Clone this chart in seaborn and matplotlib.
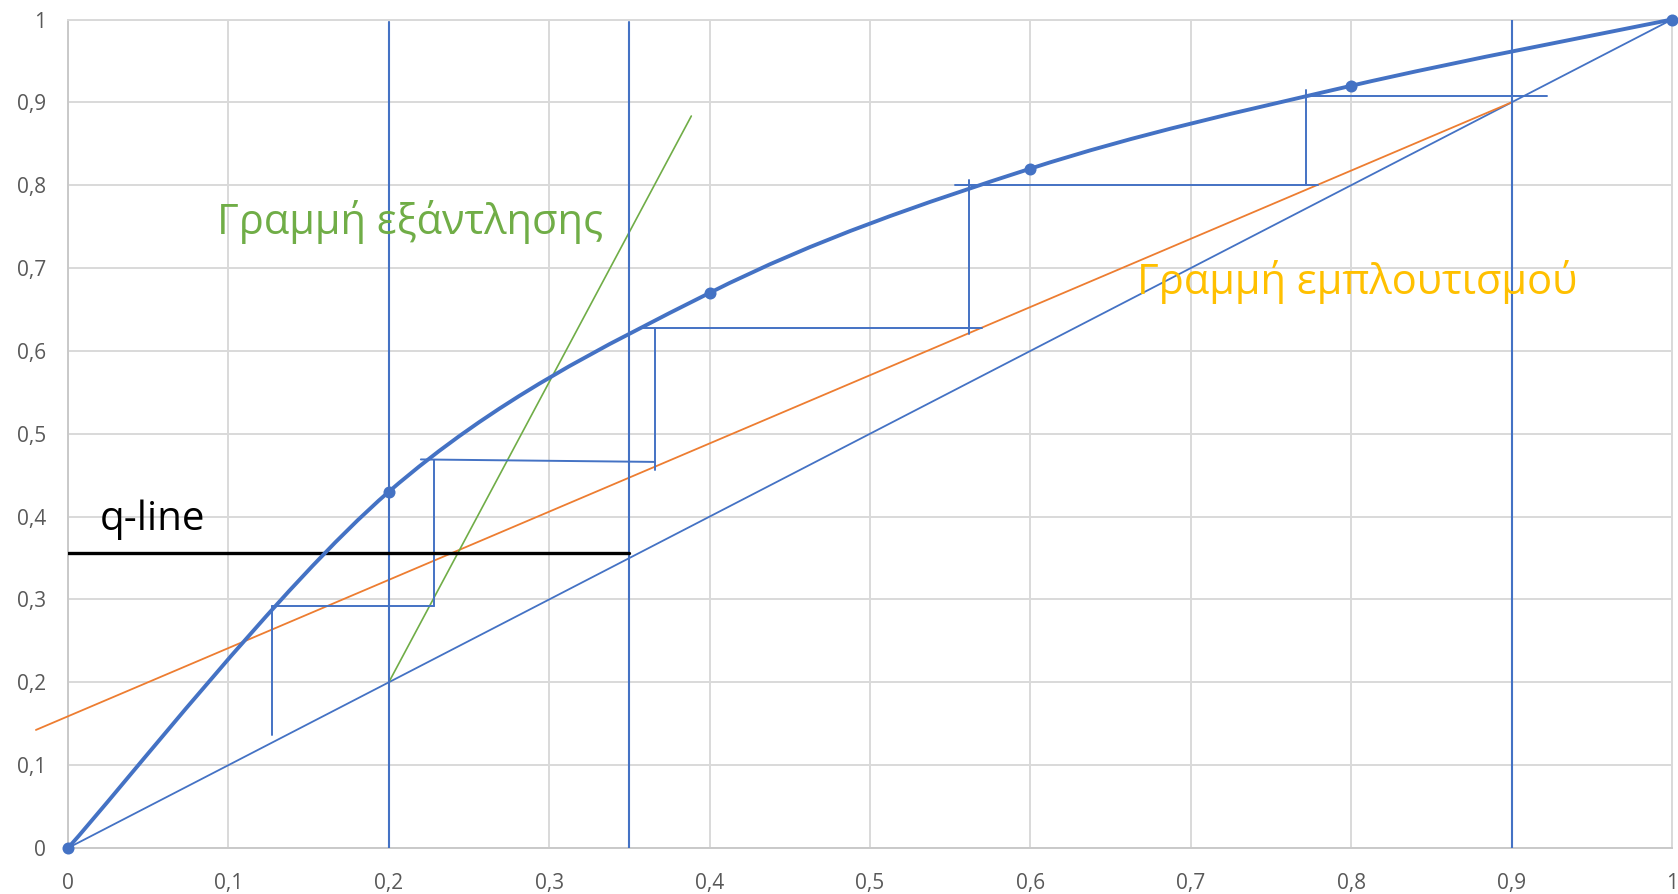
import numpy as np
import matplotlib
matplotlib.use("Agg")
import matplotlib.pyplot as plt
from matplotlib.path import Path
from matplotlib.patches import PathPatch
from matplotlib.ticker import FuncFormatter, MultipleLocator
import seaborn as sns
import pandas as pd

# Equilibrium data (x, y)
eq_x = [0.0, 0.2, 0.4, 0.6, 0.8, 1.0]
eq_y = [0.0, 0.43, 0.67, 0.82, 0.92, 1.0]

# Key compositions
x_w = 0.2     # bottoms
x_f = 0.35    # feed
x_d = 0.9     # distillate
q_y = 0.356   # q-line level

# Operating lines
rect_x = [-0.02, 0.9]
rect_y = [0.1425, 0.9]
strip_x = [0.2, 0.3886]
strip_y = [0.2, 0.8835]

# Step construction segments: (x0, y0, x1, y1)
step_x0 = [0.772, 0.772, 0.553, 0.562, 0.357, 0.366, 0.220, 0.228, 0.127, 0.127]
step_y0 = [0.9073, 0.915, 0.800, 0.806, 0.628, 0.628, 0.469, 0.468, 0.292, 0.292]
step_x1 = [0.922, 0.772, 0.779, 0.562, 0.570, 0.366, 0.366, 0.228, 0.228, 0.127]
step_y1 = [0.9073, 0.800, 0.800, 0.6205, 0.628, 0.456, 0.466, 0.292, 0.292, 0.136]

BLUE = "#4472C4"
ORANGE = "#ED7D31"
GREEN = "#70AD47"
GOLD = "#FFC000"
GRID = "#D9D9D9"

sns.set_theme(style="whitegrid")
plt.rcParams["font.family"] = ["Open Sans", "DejaVu Sans"]

fig = plt.figure(figsize=(16.78, 8.94), dpi=100)
ax = fig.add_axes([68 / 1678, 1 - 848 / 894, 1604 / 1678, 828.5 / 894])
ax.set_facecolor("white")

ax.set_xlim(0, 1)
ax.set_ylim(0, 1)
ax.xaxis.set_major_locator(MultipleLocator(0.1))
ax.yaxis.set_major_locator(MultipleLocator(0.1))


def comma_fmt(v, _pos):
    v = round(v, 1)
    if v == int(v):
        return str(int(v))
    return f"{v:.1f}".replace(".", ",")


ax.xaxis.set_major_formatter(FuncFormatter(comma_fmt))
ax.yaxis.set_major_formatter(FuncFormatter(comma_fmt))
ax.grid(True, color=GRID, linewidth=1.4)
for s in ax.spines.values():
    s.set_color(GRID)
    s.set_linewidth(1.4)
ax.spines["left"].set_color("#C9C9C9")
ax.spines["bottom"].set_color("#C9C9C9")
ax.tick_params(axis="both", length=0, labelsize=15, labelcolor="#595959")
ax.tick_params(axis="x", pad=18)
ax.tick_params(axis="y", pad=16)

# Diagonal y = x
sns.lineplot(x=[0, 1], y=[0, 1], ax=ax, color=BLUE, linewidth=1.3, zorder=3)

# Rectifying (enrichment) line
ax.plot(rect_x, rect_y, color=ORANGE, linewidth=1.3, zorder=3, clip_on=False)

# Stripping line
sns.lineplot(x=strip_x, y=strip_y, ax=ax, color=GREEN, linewidth=1.2, zorder=3)

# Vertical composition markers
for xv, top in zip([x_w, x_f, x_d], [0.997, 0.997, 1.0]):
    ax.plot([xv, xv], [0, top], color=BLUE, linewidth=1.5, zorder=3)

# q-line
ax.plot([0, x_f], [q_y, q_y], color="black", linewidth=2.4, zorder=4)

# Steps
for a, b, c, d in zip(step_x0, step_y0, step_x1, step_y1):
    ax.plot([a, c], [b, d], color=BLUE, linewidth=1.4, zorder=3)

# Smoothed equilibrium curve (Catmull-Rom rendered as cubic Bezier)
pts = np.column_stack([eq_x, eq_y])
ext = np.vstack([pts[0], pts, pts[-1]])
verts = [tuple(pts[0])]
codes = [Path.MOVETO]
for i in range(1, len(ext) - 2):
    p0, p1, p2, p3 = ext[i - 1], ext[i], ext[i + 1], ext[i + 2]
    c1 = p1 + (p2 - p0) / 6.0
    c2 = p2 - (p3 - p1) / 6.0
    verts += [tuple(c1), tuple(c2), tuple(p2)]
    codes += [Path.CURVE4] * 3
ax.add_patch(PathPatch(Path(verts, codes), facecolor="none", edgecolor=BLUE,
                       linewidth=2.8, zorder=5, clip_on=False, capstyle="round"))
eq_df = pd.DataFrame({"x": eq_x, "y": eq_y})
sns.scatterplot(data=eq_df, x="x", y="y", ax=ax, color=BLUE, s=75,
                edgecolor=BLUE, linewidth=0, zorder=6, clip_on=False)

ax.set_xlabel("")
ax.set_ylabel("")

# Annotations
ax.text(0.0929, 0.7415, "Γραμμή εξάντλησης", color=GREEN, fontsize=30,
        ha="left", va="baseline", zorder=7)
ax.text(0.6666, 0.669, "Γραμμή εμπλουτισμού", color=GOLD, fontsize=30,
        ha="left", va="baseline", zorder=7)
ax.text(0.0196, 0.3836, "q-line", color="black", fontsize=29,
        ha="left", va="baseline", zorder=7)

fig.savefig("out.png", dpi=100, facecolor="white")
